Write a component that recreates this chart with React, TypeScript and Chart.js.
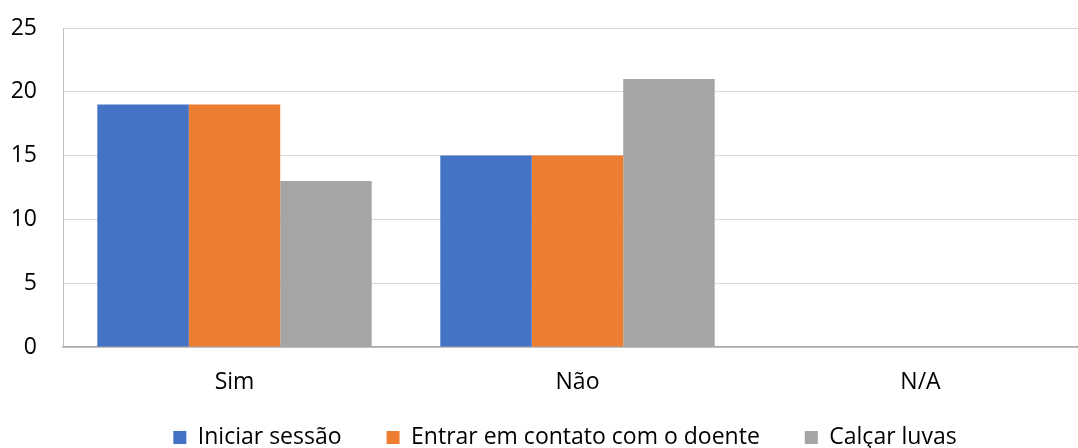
import React, { useEffect, useRef } from "react";
import { Chart, registerables } from "chart.js";

Chart.register(...registerables);

const categories = ["Sim", "Não", "N/A"];
const iniciarSessao = [19, 15, 0];
const entrarContato = [19, 15, 0];
const calcarLuvas = [13, 21, 0];
const seriesNames = ["Iniciar sessão", "Entrar em contato com o doente", "Calçar luvas"];
const seriesColors = ["#4472C4", "#ED7D31", "#A5A5A5"];

const FONT = "'Open Sans', 'Noto Sans', sans-serif";
const CANVAS_W = 1092;
const CANVAS_H = 448;

const legendTweak = {
  id: "legendTweak",
  beforeLayout(chart: any) {
    const lg = chart.legend;
    if (lg && !lg.__patched) {
      const orig = lg.fit;
      lg.fit = function () {
        orig.call(this);
        this.height = 51;
      };
      lg.__patched = true;
    }
  },
  afterLayout(chart: any) {
    const lg = chart.legend;
    if (lg) {
      lg.top -= 16;
      lg.left += 15;
      lg.right += 15;
    }
  },
};

export default function App() {
  const ref = useRef<HTMLCanvasElement | null>(null);
  useEffect(() => {
    if (!ref.current) return;
    const chart = new Chart(ref.current, {
      type: "bar",
      data: {
        labels: categories,
        datasets: [iniciarSessao, entrarContato, calcarLuvas].map((d, i) => ({
          label: seriesNames[i],
          data: d,
          backgroundColor: seriesColors[i],
          borderWidth: 0,
          barPercentage: 1,
          categoryPercentage: 0.8,
        })),
      },
      plugins: [legendTweak],
      options: {
        animation: false,
        responsive: false,
        maintainAspectRatio: false,
        layout: { padding: { left: 8, right: 0, top: 0, bottom: 0 } },
        scales: {
          x: {
            grid: { display: false, drawTicks: false },
            border: { display: true, color: "#A6A6A6", width: 1.5 },
            ticks: { color: "#000", font: { family: FONT, size: 23 }, padding: 22 },
            afterFit: (s: any) => { s.height = 50; },
          },
          y: {
            min: 0,
            max: 25,
            ticks: { stepSize: 5, color: "#000", font: { family: FONT, size: 23 }, padding: 26 },
            grid: { color: "#D9D9D9", drawTicks: false, lineWidth: 1 },
            border: { display: true, color: "#BFBFBF", width: 1 },
            afterFit: (s: any) => {
              s.width = 55;
              s.paddingTop = 28;
              s.paddingBottom = 0;
            },
          },
        },
        plugins: {
          tooltip: { enabled: false },
          legend: {
            position: "bottom",
            labels: {
              color: "#000",
              font: { family: FONT, size: 23 },
              boxWidth: 13,
              boxHeight: 13,
              padding: 45,
            },
          },
        },
      },
    } as any);
    return () => chart.destroy();
  }, []);
  return (
    <div style={{ position: "fixed", left: 0, top: 0, width: 1078, height: 448, overflow: "hidden", background: "#fff" }}>
      <canvas ref={ref} width={CANVAS_W} height={CANVAS_H} style={{ width: CANVAS_W, height: CANVAS_H, display: "block" }} />
    </div>
  );
}
